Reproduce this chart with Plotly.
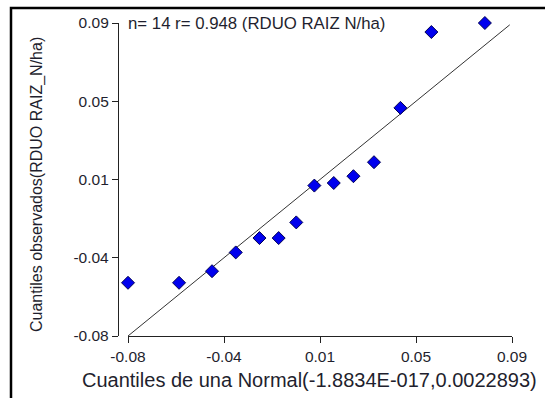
import plotly.graph_objects as go

# Data
normal_quantiles = [-0.0800, -0.0574, -0.0428, -0.0323, -0.0218, -0.0133, -0.0055,
                    0.0025, 0.0111, 0.0198, 0.0289, 0.0406, 0.0543, 0.0780]
observed_quantiles = [-0.0511, -0.0511, -0.0448, -0.0346, -0.0268, -0.0268, -0.0183,
                      0.0017, 0.0031, 0.0068, 0.0144, 0.0439, 0.0851, 0.0900]
ref_line_x = [-0.08, 0.089]
ref_line_y = [-0.08, 0.089]

tick_vals = [-0.08, -0.0375, 0.005, 0.0475, 0.09]
tick_text = ["-0.08", "-0.04", "0.01", "0.05", "0.09"]

x_title = "Cuantiles de una Normal(-1.8834E-017,0.0022893)"
y_title = "Cuantiles observados(RDUO RAIZ_N/ha)"
note = "n= 14 r= 0.948 (RDUO RAIZ N/ha)"

W, H = 545, 398
ML, MR, MT, MB = 118, 33, 23, 62
PW = W - ML - MR
PH = H - MT - MB


def px_x(px):
    return (px - ML) / PW


def px_y(py):
    return (H - MB - py) / PH


FONT = "Liberation Sans, Arial, sans-serif"
TXT = "#1f1f2e"

fig = go.Figure()
fig.add_trace(go.Scatter(x=ref_line_x, y=ref_line_y, mode="lines",
                         line=dict(color="#333333", width=1), hoverinfo="skip",
                         cliponaxis=False))
fig.add_trace(go.Scatter(x=normal_quantiles, y=observed_quantiles, mode="markers",
                         marker=dict(symbol="diamond", size=10, color="#0000ee",
                                     line=dict(color="#000055", width=1)),
                         cliponaxis=False))

fig.update_layout(
    width=W, height=H,
    margin=dict(l=ML, r=MR, t=MT, b=MB, pad=0),
    paper_bgcolor="white", plot_bgcolor="white",
    showlegend=False,
    font=dict(family=FONT, color=TXT, size=15),
    xaxis=dict(domain=[px_x(128), 1], range=[-0.08, 0.09], tickvals=tick_vals,
               ticktext=tick_text, showgrid=False, zeroline=False, showline=True,
               linecolor="#222", linewidth=1.3, ticks="outside", ticklen=6,
               tickcolor="#222", tickwidth=1.3, anchor="y",
               tickfont=dict(family=FONT, size=15.5, color=TXT)),
    yaxis=dict(domain=[0, 1], range=[-0.08, 0.09], tickvals=tick_vals,
               ticktext=tick_text, showgrid=False, zeroline=False, showline=True,
               linecolor="#222", linewidth=1.3, ticks="outside", ticklen=6,
               tickcolor="#222", tickwidth=1.3, anchor="free", position=0,
               tickfont=dict(family=FONT, size=15.5, color=TXT)),
    annotations=[
        dict(text=x_title, xref="paper", yref="paper", x=px_x(309), y=px_y(380),
             xanchor="center", yanchor="middle", showarrow=False,
             font=dict(family=FONT, size=20, color=TXT)),
        dict(text=y_title, xref="paper", yref="paper", x=px_x(37), y=px_y(185),
             xanchor="center", yanchor="middle", showarrow=False, textangle=-90,
             font=dict(family=FONT, size=16, color=TXT)),
        dict(text=note, xref="paper", yref="paper", x=px_x(126), y=px_y(23),
             xanchor="left", yanchor="middle", showarrow=False,
             font=dict(family=FONT, size=16.8, color=TXT)),
    ],
    shapes=[
        dict(type="path", xref="paper", yref="paper",
             path=f"M {px_x(560)},{px_y(8)} L {px_x(11)},{px_y(8)} L {px_x(11)},{px_y(410)}",
             line=dict(color="black", width=2.5)),
    ],
)

fig.write_html("out.html")
